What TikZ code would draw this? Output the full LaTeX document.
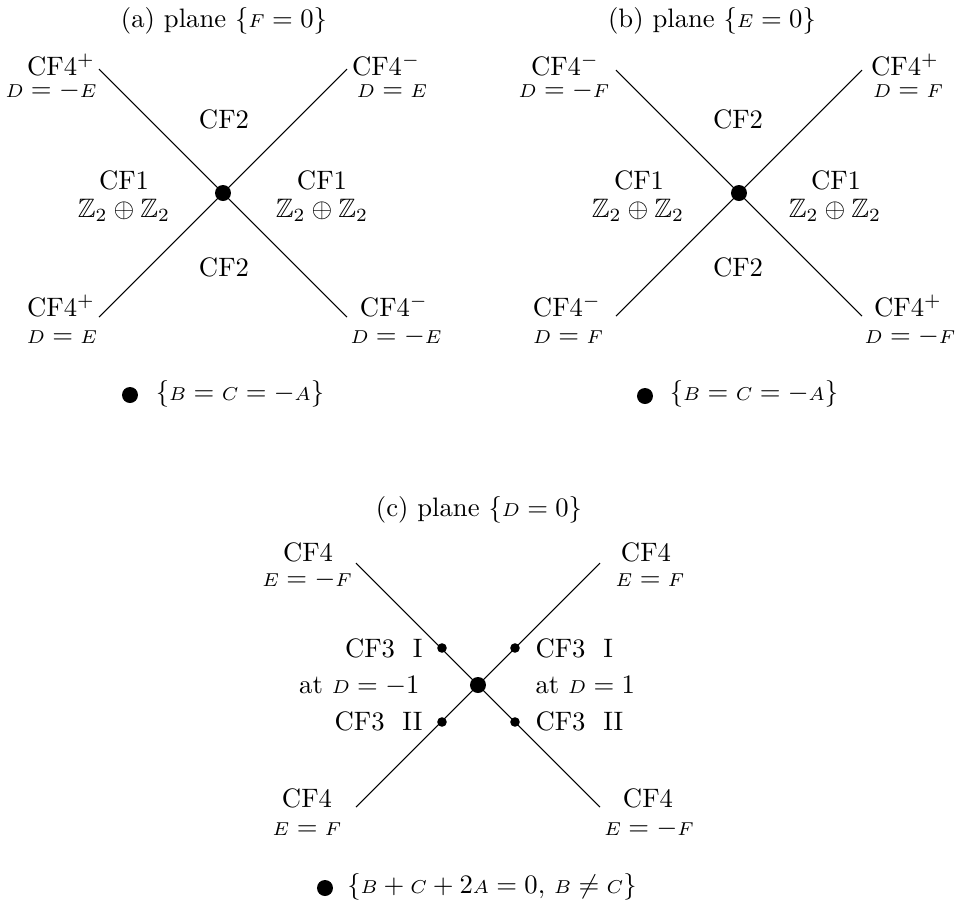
\documentclass[tikz,border=0pt]{standalone}
\usepackage{amssymb}
\newcommand{\vr}[1]{\mbox{\scriptsize$#1$}}
\tikzset{
  lbl/.style={anchor=base, inner sep=0pt},
  bigdot/.style={circle, fill, inner sep=0pt, minimum size=6pt},
  smalldot/.style={circle, fill, inner sep=0pt, minimum size=3.6pt}
}
\begin{document}
\begin{tikzpicture}[x=0.375pt, y=-0.375pt]
  \useasboundingbox (0,0) rectangle (960,902);
  % Panel (a)
  \node[lbl] (atitle) at (224,27) {(a) plane $\{\vr{F}=0\}$};
  \coordinate (aNW) at (99,69);
  \coordinate (aNE) at (347,69);
  \coordinate (aSW) at (99,317);
  \coordinate (aSE) at (347,317);
  \draw (aNW) -- (aSE);
  \draw (aSW) -- (aNE);
  \node[bigdot] (aC) at (223,193) {};
  \node[lbl] (aNWt) at (61,75) {CF4$^+$};
  \node[lbl] (aNWs) at (51,97) {$\vr{D}=-\vr{E}$};
  \node[lbl] (aNEt) at (386,75) {CF4$^-$};
  \node[lbl] (aNEs) at (392,97) {$\vr{D}=\vr{E}$};
  \node[lbl] (aN) at (224,128) {CF2};
  \node[lbl] (aWt) at (124,189) {CF1};
  \node[lbl] (aWs) at (124,217) {$\mathbb{Z}_2\oplus\mathbb{Z}_2$};
  \node[lbl] (aEt) at (322,189) {CF1};
  \node[lbl] (aEs) at (322,217) {$\mathbb{Z}_2\oplus\mathbb{Z}_2$};
  \node[lbl] (aS) at (224,276) {CF2};
  \node[lbl] (aSWt) at (61,316) {CF4$^+$};
  \node[lbl] (aSWs) at (62,343) {$\vr{D}=\vr{E}$};
  \node[lbl] (aSEt) at (394,316) {CF4$^-$};
  \node[lbl] (aSEs) at (396,343) {$\vr{D}=-\vr{E}$};
  \node[bigdot] (akey) at (130,395) {};
  \node[lbl] (akeyt) at (240,400) {$\{\vr{B}=\vr{C}=-\vr{A}\}$};
  % Panel (b)
  \node[lbl] (btitle) at (712,27) {(b) plane $\{\vr{E}=0\}$};
  \coordinate (bNW) at (616,70);
  \coordinate (bNE) at (862,70);
  \coordinate (bSW) at (616,316);
  \coordinate (bSE) at (862,316);
  \draw (bNW) -- (bSE);
  \draw (bSW) -- (bNE);
  \node[bigdot] (bC) at (739,193) {};
  \node[lbl] (bNWt) at (565,75) {CF4$^-$};
  \node[lbl] (bNWs) at (564,97) {$\vr{D}=-\vr{F}$};
  \node[lbl] (bNEt) at (905,75) {CF4$^+$};
  \node[lbl] (bNEs) at (908,97) {$\vr{D}=\vr{F}$};
  \node[lbl] (bN) at (738,128) {CF2};
  \node[lbl] (bWt) at (639,189) {CF1};
  \node[lbl] (bWs) at (638,217) {$\mathbb{Z}_2\oplus\mathbb{Z}_2$};
  \node[lbl] (bEt) at (836,189) {CF1};
  \node[lbl] (bEs) at (835,217) {$\mathbb{Z}_2\oplus\mathbb{Z}_2$};
  \node[lbl] (bS) at (738,276) {CF2};
  \node[lbl] (bSWt) at (567,316) {CF4$^-$};
  \node[lbl] (bSWs) at (568,343) {$\vr{D}=\vr{F}$};
  \node[lbl] (bSEt) at (908,316) {CF4$^+$};
  \node[lbl] (bSEs) at (910,343) {$\vr{D}=-\vr{F}$};
  \node[bigdot] (bkey) at (645,396) {};
  \node[lbl] (bkeyt) at (754,400) {$\{\vr{B}=\vr{C}=-\vr{A}\}$};
  % Panel (c)
  \node[lbl] (ctitle) at (479,516) {(c) plane $\{\vr{D}=0\}$};
  \coordinate (cNW) at (356,563);
  \coordinate (cNE) at (600,563);
  \coordinate (cSW) at (356,807);
  \coordinate (cSE) at (600,807);
  \draw (cNW) -- (cSE);
  \draw (cSW) -- (cNE);
  \node[bigdot] (cC) at (478,685) {};
  \node[smalldot] (cdNW) at (442,648) {};
  \node[smalldot] (cdNE) at (515,648) {};
  \node[smalldot] (cdSW) at (442,722) {};
  \node[smalldot] (cdSE) at (515,722) {};
  \node[lbl] (cNWt) at (308,561) {CF4};
  \node[lbl] (cNWs) at (307,586) {$\vr{E}=-\vr{F}$};
  \node[lbl] (cNEt) at (646,561) {CF4};
  \node[lbl] (cNEs) at (650,586) {$\vr{E}=\vr{F}$};
  \node[lbl, anchor=base east] (cWa) at (423,657) {CF3~~I};
  \node[lbl, anchor=base east] (cWb) at (420,693) {at~$\vr{D}=-1$};
  \node[lbl, anchor=base east] (cWc) at (423,730) {CF3~~II};
  \node[lbl, anchor=base west] (cEa) at (535,657) {CF3~~I};
  \node[lbl, anchor=base west] (cEb) at (535,693) {at~$\vr{D}=1$};
  \node[lbl, anchor=base west] (cEc) at (535,730) {CF3~~II};
  \node[lbl] (cSWt) at (307,807) {CF4};
  \node[lbl] (cSWs) at (307,835) {$\vr{E}=\vr{F}$};
  \node[lbl] (cSEt) at (648,807) {CF4};
  \node[lbl] (cSEs) at (649,835) {$\vr{E}=-\vr{F}$};
  \node[bigdot] (ckey) at (325,888) {};
  \node[lbl] (ckeyt) at (492,893) {$\{\vr{B}+\vr{C}+2\vr{A}=0,\,\vr{B}\neq\vr{C}\}$};
\end{tikzpicture}
\end{document}
